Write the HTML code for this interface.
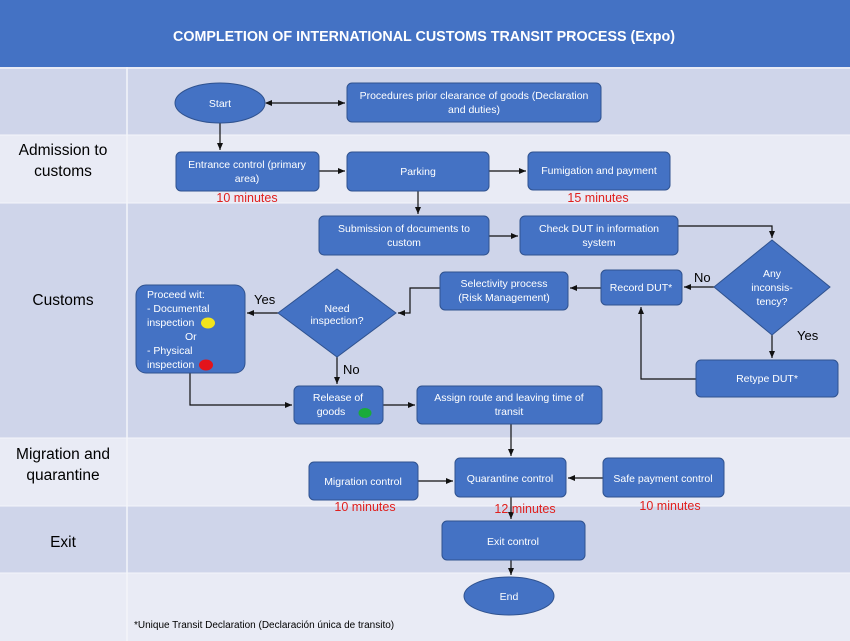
<!DOCTYPE html>
<html><head><meta charset="utf-8"><style>
body{margin:0;width:850px;height:641px;overflow:hidden;background:#e9ebf5;}
svg{display:block;font-family:"Liberation Sans",sans-serif;}
.b{fill:#4472c4;stroke:#2f528f;stroke-width:1;}
.t{fill:#fff;font-size:10.5px;text-anchor:middle;}
.r{fill:#e0201e;font-size:12.5px;text-anchor:middle;}
.l{fill:#000;font-size:15.5px;text-anchor:middle;}
.k{fill:#000;font-size:13px;}
.c{stroke:#111;stroke-width:1.2;fill:none;marker-end:url(#a);}
</style></head><body>
<svg width="850" height="641" viewBox="0 0 850 641">
<defs><marker id="a" markerWidth="8" markerHeight="8" refX="7" refY="4" orient="auto" markerUnits="userSpaceOnUse"><path d="M0,1 L7,4 L0,7z" fill="#111"/></marker>
<marker id="s" markerWidth="8" markerHeight="8" refX="1" refY="4" orient="auto" markerUnits="userSpaceOnUse"><path d="M7,1 L0,4 L7,7z" fill="#111"/></marker></defs>
<rect x="0" y="0" width="850" height="67" fill="#4472c4"/>
<text x="424" y="41" fill="#fff" font-size="14.3" font-weight="bold" text-anchor="middle">COMPLETION OF INTERNATIONAL CUSTOMS TRANSIT PROCESS (Expo)</text>
<rect x="0" y="69" width="850" height="66" fill="#cfd5ea"/>
<rect x="0" y="135" width="850" height="68" fill="#e9ebf5"/>
<rect x="0" y="203" width="850" height="235" fill="#cfd5ea"/>
<rect x="0" y="438" width="850" height="68" fill="#e9ebf5"/>
<rect x="0" y="506" width="850" height="67" fill="#cfd5ea"/>
<rect x="0" y="573" width="850" height="68" fill="#e9ebf5"/>
<line x1="127" y1="67" x2="127" y2="641" stroke="#f4f5fa" stroke-width="1.5"/>
<g stroke="#f4f5fa" stroke-width="1"><line x1="0" y1="135" x2="850" y2="135"/><line x1="0" y1="203" x2="850" y2="203"/><line x1="0" y1="438" x2="850" y2="438"/><line x1="0" y1="506" x2="850" y2="506"/><line x1="0" y1="573" x2="850" y2="573"/></g>
<text class="l" x="63" y="155">Admission to</text><text class="l" x="63" y="176">customs</text>
<text class="l" x="63" y="305">Customs</text>
<text class="l" x="63" y="459">Migration and</text><text class="l" x="63" y="480">quarantine</text>
<text class="l" x="63" y="547">Exit</text>
<line x1="266" y1="103" x2="345" y2="103" class="c" marker-start="url(#s)"/>
<line x1="220" y1="123" x2="220" y2="150" class="c"/>
<line x1="319" y1="171" x2="345" y2="171" class="c"/>
<line x1="489" y1="171" x2="526" y2="171" class="c"/>
<line x1="418" y1="191" x2="418" y2="214" class="c"/>
<line x1="489" y1="236" x2="518" y2="236" class="c"/>
<polyline points="678,226 772,226 772,238" class="c"/>
<line x1="714" y1="287" x2="684" y2="287" class="c"/>
<line x1="601" y1="288" x2="570" y2="288" class="c"/>
<polyline points="440,288 410,288 410,313 398,313" class="c"/>
<line x1="278" y1="313" x2="247" y2="313" class="c"/>
<line x1="337" y1="357" x2="337" y2="384" class="c"/>
<polyline points="190,373 190,405 292,405" class="c"/>
<line x1="383" y1="405" x2="415" y2="405" class="c"/>
<line x1="772" y1="335" x2="772" y2="358" class="c"/>
<polyline points="696,379 641,379 641,307" class="c"/>
<line x1="511" y1="424" x2="511" y2="456" class="c"/>
<line x1="418" y1="481" x2="453" y2="481" class="c"/>
<line x1="603" y1="478" x2="568" y2="478" class="c"/>
<line x1="511" y1="497" x2="511" y2="519" class="c"/>
<line x1="511" y1="560" x2="511" y2="575" class="c"/>
<ellipse class="b" cx="220" cy="103" rx="45" ry="20"/><text class="t" x="220" y="107">Start</text>
<rect class="b" x="347" y="83" width="254" height="39" rx="5"/><text class="t" x="474" y="99">Procedures prior clearance of goods (Declaration</text><text class="t" x="474" y="113">and duties)</text>
<rect class="b" x="176" y="152" width="143" height="39" rx="5"/><text class="t" x="247" y="168">Entrance control (primary</text><text class="t" x="247" y="182">area)</text>
<text class="r" x="247" y="202">10 minutes</text>
<rect class="b" x="347" y="152" width="142" height="39" rx="5"/><text class="t" x="418" y="175">Parking</text>
<rect class="b" x="528" y="152" width="142" height="38" rx="5"/><text class="t" x="599" y="174">Fumigation and payment</text>
<text class="r" x="598" y="202">15 minutes</text>
<rect class="b" x="319" y="216" width="170" height="39" rx="5"/><text class="t" x="404" y="232">Submission of documents to</text><text class="t" x="404" y="246">custom</text>
<rect class="b" x="520" y="216" width="158" height="39" rx="5"/><text class="t" x="599" y="232">Check DUT in information</text><text class="t" x="599" y="246">system</text>
<polygon class="b" points="772,240 830,287 772,335 714,287"/>
<text class="t" x="772" y="277">Any</text><text class="t" x="772" y="291">inconsis-</text><text class="t" x="772" y="305">tency?</text>
<text class="k" x="694" y="282">No</text><text class="k" x="797" y="340">Yes</text>
<rect class="b" x="601" y="270" width="81" height="35" rx="5"/><text class="t" x="641" y="291">Record DUT*</text>
<rect class="b" x="440" y="272" width="128" height="38" rx="5"/><text class="t" x="504" y="287">Selectivity process</text><text class="t" x="504" y="301">(Risk Management)</text>
<polygon class="b" points="337,269 396,313 337,357 278,313"/>
<text class="t" x="337" y="312" font-size="9">Need</text><text class="t" x="337" y="324" font-size="9">inspection?</text>
<text class="k" x="254" y="304">Yes</text><text class="k" x="343" y="374">No</text>
<rect class="b" x="136" y="285" width="109" height="88" rx="10"/>
<g fill="#fff" font-size="10.5"><text x="147" y="298">Proceed wit:</text><text x="147" y="312">- Documental</text><text x="147" y="326">inspection</text><text x="185" y="340">Or</text><text x="147" y="354">- Physical</text><text x="147" y="368">inspection</text></g>
<ellipse cx="208" cy="323" rx="7" ry="5.5" fill="#f2e41c"/><ellipse cx="206" cy="365" rx="7" ry="5.5" fill="#e3141b"/>
<rect class="b" x="294" y="386" width="89" height="38" rx="5"/><text class="t" x="338" y="401">Release of</text><text class="t" x="331" y="415">goods</text>
<ellipse cx="365" cy="413" rx="6.5" ry="5" fill="#1aab3a"/>
<rect class="b" x="417" y="386" width="185" height="38" rx="5"/><text class="t" x="509" y="401">Assign route and leaving time of</text><text class="t" x="509" y="415">transit</text>
<rect class="b" x="696" y="360" width="142" height="37" rx="5"/><text class="t" x="767" y="382">Retype DUT*</text>
<rect class="b" x="309" y="462" width="109" height="38" rx="5"/><text class="t" x="363" y="485">Migration control</text>
<text class="r" x="365" y="511">10 minutes</text>
<rect class="b" x="455" y="458" width="111" height="39" rx="5"/><text class="t" x="510" y="482">Quarantine control</text>
<text class="r" x="525" y="513">12 minutes</text>
<rect class="b" x="603" y="458" width="121" height="39" rx="5"/><text class="t" x="663" y="482">Safe payment control</text>
<text class="r" x="670" y="510">10 minutes</text>
<rect class="b" x="442" y="521" width="143" height="39" rx="5"/><text class="t" x="513" y="545">Exit control</text>
<ellipse class="b" cx="509" cy="596" rx="45" ry="19"/><text class="t" x="509" y="600">End</text>
<text x="134" y="628" font-size="10" fill="#000">*Unique Transit Declaration (Declaración única de transito)</text>
</svg>
</body></html>
